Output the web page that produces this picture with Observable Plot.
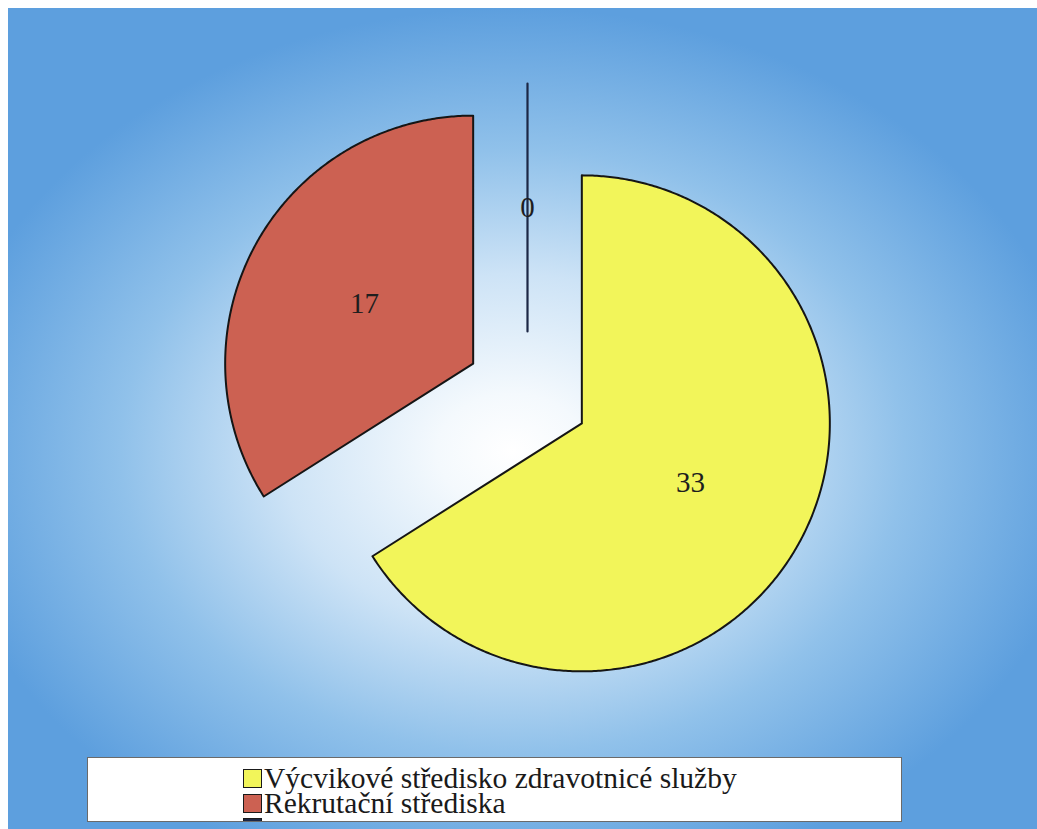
<!DOCTYPE html>
<html>
<head>
<meta charset="utf-8">
<script src="https://cdn.jsdelivr.net/npm/d3@7"></script>
<script src="https://cdn.jsdelivr.net/npm/@observablehq/plot@0.6"></script>
<style>
  html, body { margin: 0; padding: 0; background: #fff; }
  #wrap { position: relative; width: 1037px; height: 829px; overflow: hidden; }
  #bg { position: absolute; left: 8px; top: 8px; right: 0; bottom: 0;
        background: radial-gradient(ellipse 56% 54% at 49% 54%, #ffffff 0%, #f4f9fd 13%, #cde3f6 40%, #90c1ea 68%, #5d9fde 100%); }
  #chart { position: absolute; left: 0; top: 0; }
  #legend { position: absolute; left: 87px; top: 757px; width: 815px; height: 65px;
            background: #fff; border: 1px solid #6a6a6a; overflow: hidden; box-sizing: border-box;
            font-family: "Liberation Serif", "Times New Roman", serif; font-size: 29.5px; color: #1a1a1a; }
  .row { position: absolute; left: 155px; display: flex; align-items: center; height: 25px; line-height: 25px; white-space: nowrap; }
  .sw { width: 17px; height: 17px; border: 1.5px solid #1a1a1a; margin-right: 2px; box-sizing: content-box; flex: none; }
</style>
</head>
<body>
<div id="wrap">
  <div id="bg"></div>
  <div id="chart"></div>
  <div id="legend"></div>
</div>
<script>
// ---- data ----
const categories = ["Výcvikové středisko zdravotnicé služby", "Rekrutační střediska", "Ostatní"];
const values = [33, 17, 0];
const colors = ["#f2f55a", "#cc6152", "#1c2745"];

// ---- layout constants ----
const W = 1037, H = 750;
const R = 248;            // pie radius in px
const CX = 527, CY = 393; // pie centre in px
const EXPLODE = 0.25;     // explode distance (in radii)
const LABEL_R = 0.50;     // label distance from slice apex (in radii)

const table = categories.map((c, i) => ({category: c, value: values[i], color: colors[i]}));
const arcs = d3.pie().sort(null).value(d => d.value).startAngle(0).endAngle(2 * Math.PI)(table);

// slice outlines in pie units (radius 1, y up)
const slices = arcs.map(a => {
  const mid = (a.startAngle + a.endAngle) / 2;
  const ox = EXPLODE * Math.sin(mid), oy = EXPLODE * Math.cos(mid);
  const pts = [{x: ox, y: oy}];
  const n = Math.max(1, Math.ceil((a.endAngle - a.startAngle) / (Math.PI / 360)));
  for (let k = 0; k <= n; k++) {
    const t = a.startAngle + (a.endAngle - a.startAngle) * k / n;
    pts.push({x: ox + Math.sin(t), y: oy + Math.cos(t)});
  }
  pts.push({x: ox, y: oy});
  return {
    ...a.data,
    pts,
    zero: a.value === 0,
    lx: ox + LABEL_R * Math.sin(mid),
    ly: oy + LABEL_R * Math.cos(mid)
  };
});

const marks = [];
for (const s of slices) {
  if (s.zero) {
    marks.push(Plot.line(s.pts, {x: "x", y: "y", stroke: s.color, strokeWidth: 2.2}));
  } else {
    marks.push(Plot.line(s.pts, {x: "x", y: "y", fill: s.color, stroke: "#151515", strokeWidth: 2, strokeLinejoin: "round"}));
  }
}
marks.push(Plot.text(slices, {
  x: "lx", y: "ly", text: d => String(d.value),
  fontSize: 29, fontFamily: "Liberation Serif", fill: "#1e1e1e"
}));

const plot = Plot.plot({
  width: W, height: H,
  margin: 0,
  x: {domain: [-CX / R, (W - CX) / R], axis: null},
  y: {domain: [-(H - CY) / R, CY / R], axis: null},
  style: {background: "transparent", overflow: "visible"},
  marks
});
document.getElementById("chart").appendChild(plot);

// legend
const legend = document.getElementById("legend");
categories.forEach((c, i) => {
  const row = document.createElement("div");
  row.className = "row";
  row.style.top = (i < 2 ? 8 + i * 25 : 60) + "px";
  if (i === 2) row.style.alignItems = "flex-start";
  const sw = document.createElement("div");
  sw.className = "sw";
  sw.style.background = colors[i];
  const tx = document.createElement("span");
  tx.textContent = c;
  if (i === 2) tx.style.paddingTop = "8px";
  row.appendChild(sw);
  row.appendChild(tx);
  legend.appendChild(row);
});
</script>
</body>
</html>
